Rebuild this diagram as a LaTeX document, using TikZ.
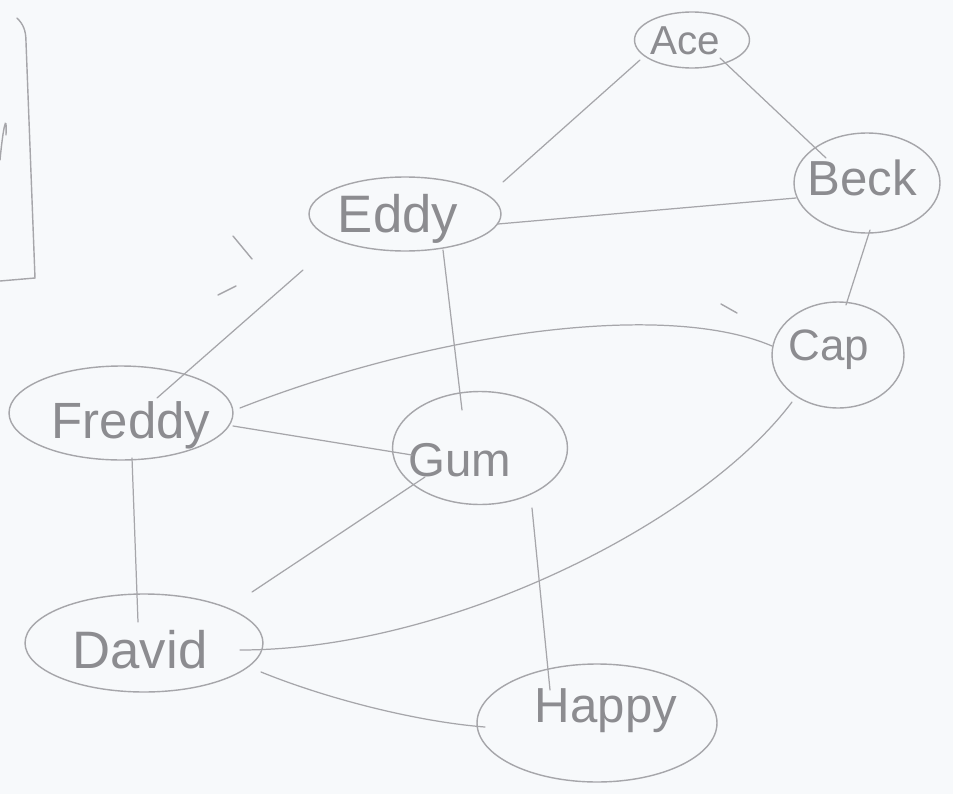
\documentclass[tikz,border=0pt]{standalone}
\usepackage{fontspec}
\setmainfont{Liberation Sans}
\usetikzlibrary{shapes.geometric}
\definecolor{pencil}{RGB}{166,166,170}
\definecolor{ink}{RGB}{140,140,144}
\definecolor{paper}{RGB}{247,249,251}
\begin{document}
\begin{tikzpicture}[x=0.02cm,y=-0.02cm,
  ell/.style={draw=pencil, line width=0.8pt, ellipse, inner sep=0pt, outer sep=0pt},
  lbl/.style={text=ink, anchor=base, inner sep=0pt},
  edge/.style={draw=pencil, line width=0.7pt, line cap=round},
  stray/.style={draw=pencil, line width=0.8pt, line cap=round}]
\fill[paper] (0,0) rectangle (953,794);
\useasboundingbox (0,0) rectangle (953,794);

% nodes (ellipses)
\node[ell, minimum width=2.3cm,  minimum height=1.12cm] (ace)    at (692,40)  {};
\node[ell, minimum width=2.92cm, minimum height=2.0cm]  (beck)   at (867,183) {};
\node[ell, minimum width=2.64cm, minimum height=2.12cm] (cap)    at (838,355) {};
\node[ell, minimum width=3.84cm, minimum height=1.48cm] (eddy)   at (405,214) {};
\node[ell, minimum width=4.48cm, minimum height=1.88cm] (freddy) at (121,413) {};
\node[ell, minimum width=3.5cm,  minimum height=2.26cm] (gum)    at (480,448) {};
\node[ell, minimum width=4.76cm, minimum height=1.96cm] (david)  at (144,643) {};
\node[ell, minimum width=4.8cm,  minimum height=2.36cm] (happy)  at (597,723) {};

% labels
\node[lbl, font=\fontsize{23}{23}\selectfont] (acet)    at (685,55)  {Ace};
\node[lbl, font=\fontsize{28}{28}\selectfont] (beckt)   at (862,195) {Beck};
\node[lbl, font=\fontsize{25}{25}\selectfont] (capt)    at (829,360) {Cap};
\node[lbl, font=\fontsize{30}{30}\selectfont] (eddyt)   at (398,232) {Eddy};
\node[lbl, font=\fontsize{29}{29}\selectfont] (freddyt) at (131,438) {Freddy};
\node[lbl, font=\fontsize{27}{27}\selectfont] (gumt)    at (460,476) {Gum};
\node[lbl, font=\fontsize{30}{30}\selectfont] (davidt)  at (140,668) {David};
\node[lbl, font=\fontsize{28}{28}\selectfont] (happyt)  at (606,722) {Happy};

% connectors
\draw[edge] ([shift={(-52,20)}]ace.center) -- ([shift={(98,-32)}]eddy.center);
\draw[edge] ([shift={(28,18)}]ace.center) -- ([shift={(-41,-25)}]beck.center);
\draw[edge] ([shift={(93,10)}]eddy.center) -- ([shift={(-71,15)}]beck.center);
\draw[edge] ([shift={(3,47)}]beck.center) -- ([shift={(8,-50)}]cap.center);
\draw[edge] ([shift={(38,36)}]eddy.center) -- ([shift={(-18,-38)}]gum.center);
\draw[edge] ([shift={(-102,56)}]eddy.center) -- ([shift={(36,-15)}]freddy.center);
\draw[edge] ([shift={(119,-5)}]freddy.center) .. controls (426,335) and (662,299) .. ([shift={(-66,-9)}]cap.center);
\draw[edge] ([shift={(112,13)}]freddy.center) -- ([shift={(-68,7)}]gum.center);
\draw[edge] ([shift={(11,45)}]freddy.center) -- ([shift={(-6,-21)}]david.center);
\draw[edge] ([shift={(108,-51)}]david.center) -- ([shift={(-55,29)}]gum.center);
\draw[edge] ([shift={(96,7)}]david.center) .. controls (450,650) and (702,522) .. ([shift={(-46,47)}]cap.center);
\draw[edge] ([shift={(52,60)}]gum.center) -- ([shift={(-47,-33)}]happy.center);
\draw[edge] ([shift={(117,29)}]david.center) .. controls (330,700) and (420,722) .. ([shift={(-112,4)}]happy.center);

% frame fragment at top left and stray pencil marks
\draw[stray] (17,18) .. controls (23,24) and (26,30) .. (26,42) -- (35,278) -- (0,281);
\draw[stray] (0,160) .. controls (3,128) and (7,110) .. (6,135);
\draw[stray] (233,236) -- (252,259);
\draw[stray] (218,295) -- (236,286);
\draw[stray] (721,304) -- (737,313);
\end{tikzpicture}
\end{document}
